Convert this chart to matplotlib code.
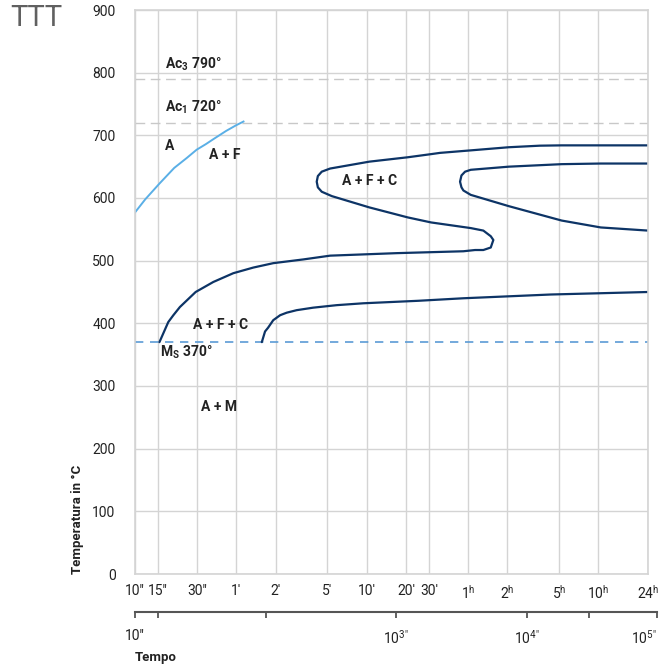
import numpy as np
import matplotlib
matplotlib.use('Agg')
import matplotlib.pyplot as plt
from matplotlib import font_manager
from matplotlib.ticker import FixedLocator, NullLocator

# -------------------------------------------------------------------
# Fonts: a narrow sans if one is there
# -------------------------------------------------------------------
names = {f.name for f in font_manager.fontManager.ttflist}
NARROW = 'Liberation Sans Narrow' if 'Liberation Sans Narrow' in names else 'Roboto'
plt.rcParams['font.family'] = [NARROW, 'DejaVu Sans']
plt.rcParams['mathtext.fontset'] = 'custom'
plt.rcParams['mathtext.rm'] = NARROW
plt.rcParams['mathtext.bf'] = NARROW + ':bold'

# -------------------------------------------------------------------
# Data (time in seconds, temperature in °C)
# -------------------------------------------------------------------
ac_t = [10, 12, 15.4, 20, 25, 29.7, 35, 40, 50, 59.6, 68]
ac_T = [577, 598, 623, 648, 664, 677, 686, 694, 707, 716, 722]

c1_t = [86400, 37500, 18800, 12800, 7380, 3770, 2190, 1870, 1240, 628, 314, 271,
        253, 248, 253, 271, 324, 628, 1240, 1870, 3770, 4710, 5370, 5620, 5370,
        4710, 4070, 3310, 1020, 314, 196, 115, 80.9, 56.8, 39.9, 29.2, 22.1, 19.7, 18, 15.4]
c1_T = [684, 684, 684, 683.5, 681, 676, 672, 670, 665, 658, 647, 642,
        635, 626, 617, 610, 603, 585, 569, 561, 552, 548, 539, 533, 521,
        517, 517, 515, 512, 508, 502, 496, 489, 480, 466, 450, 426, 413, 402, 370]

c2_t = [86400, 37500, 18800, 7380, 3770, 3410, 3200, 3120, 3200, 3311, 3770, 7380, 18800, 37500, 86400]
c2_T = [655, 655, 654, 650, 645, 642, 636, 626, 617, 612, 605, 587, 564, 553, 548]

c3_t = [94, 99.5, 105, 115, 130, 146, 174, 233, 353, 565, 1500, 3310, 15500, 86400]
c3_T = [370, 387, 393, 405, 413, 417, 421, 425, 429, 432, 436, 440, 446, 450]

AC3, AC1, MS = 790, 720, 370

time_ticks = [10, 15, 30, 60, 120, 300, 600, 1200, 1800, 3600, 7200, 18000, 36000, 86400]
time_labels = ['10\u2033', '15\u2033', '30\u2033', '1\u2032', '2\u2032', '5\u2032', '10\u2032',
               '20\u2032', '30\u2032', r'1$^{\mathrm{h}}$', r'2$^{\mathrm{h}}$',
               r'5$^{\mathrm{h}}$', r'10$^{\mathrm{h}}$', r'24$^{\mathrm{h}}$']
temp_ticks = [0, 100, 200, 300, 400, 500, 600, 700, 800, 900]

sec_ticks = [10, 15, 100, 1000, 10000, 30000, 100000]
sec_labels = ['10\u2033', '', '', '10$^{3\u2033}$', '10$^{4\u2033}$', '', '10$^{5\u2033}$']

NAVY = '#0d3466'
LIGHT = '#5aafe6'
GRID = '#d4d4d4'

# -------------------------------------------------------------------
# Main TTT axes
# -------------------------------------------------------------------
W, H = 665, 668
fig = plt.figure(figsize=(W / 100, H / 100), dpi=100)
ax = fig.add_axes([135 / W, 1 - 574 / H, (648 - 135) / W, (574 - 10) / H])

ax.set_xscale('log')
ax.set_xlim(10, 86400)
ax.set_ylim(0, 900)
ax.xaxis.set_major_locator(FixedLocator(time_ticks))
ax.xaxis.set_minor_locator(NullLocator())
ax.set_xticklabels(time_labels)
ax.set_yticks(temp_ticks)
ax.tick_params(axis='both', length=0, labelsize=10, colors='#222222')
ax.tick_params(axis='x', pad=7)
ax.tick_params(axis='y', pad=14)
ax.grid(True, color=GRID, linewidth=1)
for s in ax.spines.values():
    s.set_color(GRID)
    s.set_linewidth(1.2)

# critical temperatures
ax.axhline(AC3, color='#c8c8c8', lw=1, dashes=(7, 4))
ax.axhline(AC1, color='#c8c8c8', lw=1, dashes=(7, 4))
ax.axhline(MS, color='#5b9bd5', lw=1.2, dashes=(5, 4))

# transformation curves
ax.plot(ac_t, ac_T, color=LIGHT, lw=1.4, solid_joinstyle='round')
for t, T in [(c1_t, c1_T), (c2_t, c2_T), (c3_t, c3_T)]:
    ax.plot(t, T, color=NAVY, lw=1.6, solid_joinstyle='round', solid_capstyle='round')

lab = dict(fontsize=10, fontweight='bold', color='#222222', va='center', ha='left')
ax.text(17, 814, r'Ac$_{\mathbf{3}}$ 790°', **lab)
ax.text(17, 745, r'Ac$_{\mathbf{1}}$ 720°', **lab)
ax.text(17, 683, 'A', **lab)
ax.text(37, 669, 'A + F', **lab)
ax.text(388, 627, 'A + F + C', **lab)
ax.text(27.9, 397, 'A + F + C', **lab)
ax.text(15.6, 354, r'M$_{\mathbf{S}}$ 370°', **lab)
ax.text(32.1, 266, 'A + M', **lab)

# -------------------------------------------------------------------
# Seconds scale below
# -------------------------------------------------------------------
ax2 = fig.add_axes([135 / W, 1 - 612 / H, (657 - 135) / W, 0.0001])
ax2.set_xscale('log')
ax2.set_xlim(10, 100000)
ax2.set_yticks([])
ax2.xaxis.set_major_locator(FixedLocator(sec_ticks))
ax2.xaxis.set_minor_locator(NullLocator())
ax2.set_xticklabels(sec_labels)
ax2.tick_params(axis='x', direction='out', length=4, width=1.3, color='#555555',
                labelsize=10, pad=8, labelcolor='#222222')
ax2.get_xticklabels()[-1].set_ha('right')
for k in ['top', 'left', 'right']:
    ax2.spines[k].set_visible(False)
ax2.spines['bottom'].set_color('#555555')
ax2.spines['bottom'].set_linewidth(1.5)
ax2.patch.set_visible(False)

# -------------------------------------------------------------------
# Titles
# -------------------------------------------------------------------
fig.text(10 / W, 1 - 18 / H, 'TTT', fontsize=21, color='#606060', va='center', ha='left')
fig.text(78 / W, 1 - 574 / H, 'Temperatura in °C', rotation=90, fontsize=9.5,
         fontweight='bold', ha='center', va='bottom', color='#222222')
fig.text(135 / W, 1 - 657 / H, 'Tempo', fontsize=9.5, fontweight='bold',
         ha='left', va='center', color='#222222')

fig.savefig('out.png', dpi=100)
